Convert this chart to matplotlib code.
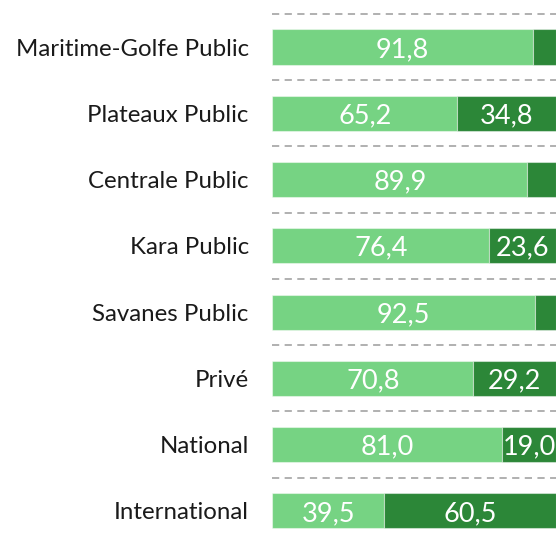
import matplotlib
matplotlib.use("Agg")
import matplotlib.pyplot as plt

plt.rcParams['font.family'] = ['Lato', 'DejaVu Sans']

categories = ["Maritime-Golfe Public", "Plateaux Public", "Centrale Public",
              "Kara Public", "Savanes Public", "Privé", "National", "International"]
share_light = [91.8, 65.2, 89.9, 76.4, 92.5, 70.8, 81.0, 39.5]
share_dark = [8.2, 34.8, 10.1, 23.6, 7.5, 29.2, 19.0, 60.5]

LIGHT = "#76D383"
DARK = "#2C8738"

fig = plt.figure(figsize=(5.56, 5.38), dpi=100)
ax = fig.add_axes([0.490, 0.0, 0.510, 1.0])

ypos = list(range(len(categories)))
bar_h = 0.53

ax.barh(ypos, share_light, height=bar_h, color=LIGHT,
        edgecolor=(1, 1, 1, 0.45), linewidth=0.8, zorder=3)
ax.barh(ypos, share_dark, left=share_light, height=bar_h, color=DARK,
        edgecolor=(1, 1, 1, 0.45), linewidth=0.8, zorder=3)

def fmt(v):
    return f"{v:.1f}".replace(".", ",")

for y, a, b in zip(ypos, share_light, share_dark):
    if a >= 15:
        ax.text(a / 2, y, fmt(a), ha="center", va="center_baseline",
                color="white", fontsize=19.5, zorder=4)
    if b >= 15:
        ax.text(a + b / 2, y, fmt(b), ha="center", va="center_baseline",
                color="white", fontsize=19.5, zorder=4)

# dashed separators between rows
for k in range(len(categories)):
    ax.axhline(k - 0.5, color="#AAAAAA", linewidth=1.3,
               linestyle=(0, (4, 3)), zorder=1)

ax.set_xlim(0, 100)
ax.set_ylim(7.41, -0.71)
ax.set_yticks(ypos)
ax.set_yticklabels(categories, fontsize=17.3, color="#1a1a1a")
ax.tick_params(axis="y", length=0, pad=17)
ax.set_xticks([])
for s in ax.spines.values():
    s.set_visible(False)

fig.savefig("out.png", dpi=100)
